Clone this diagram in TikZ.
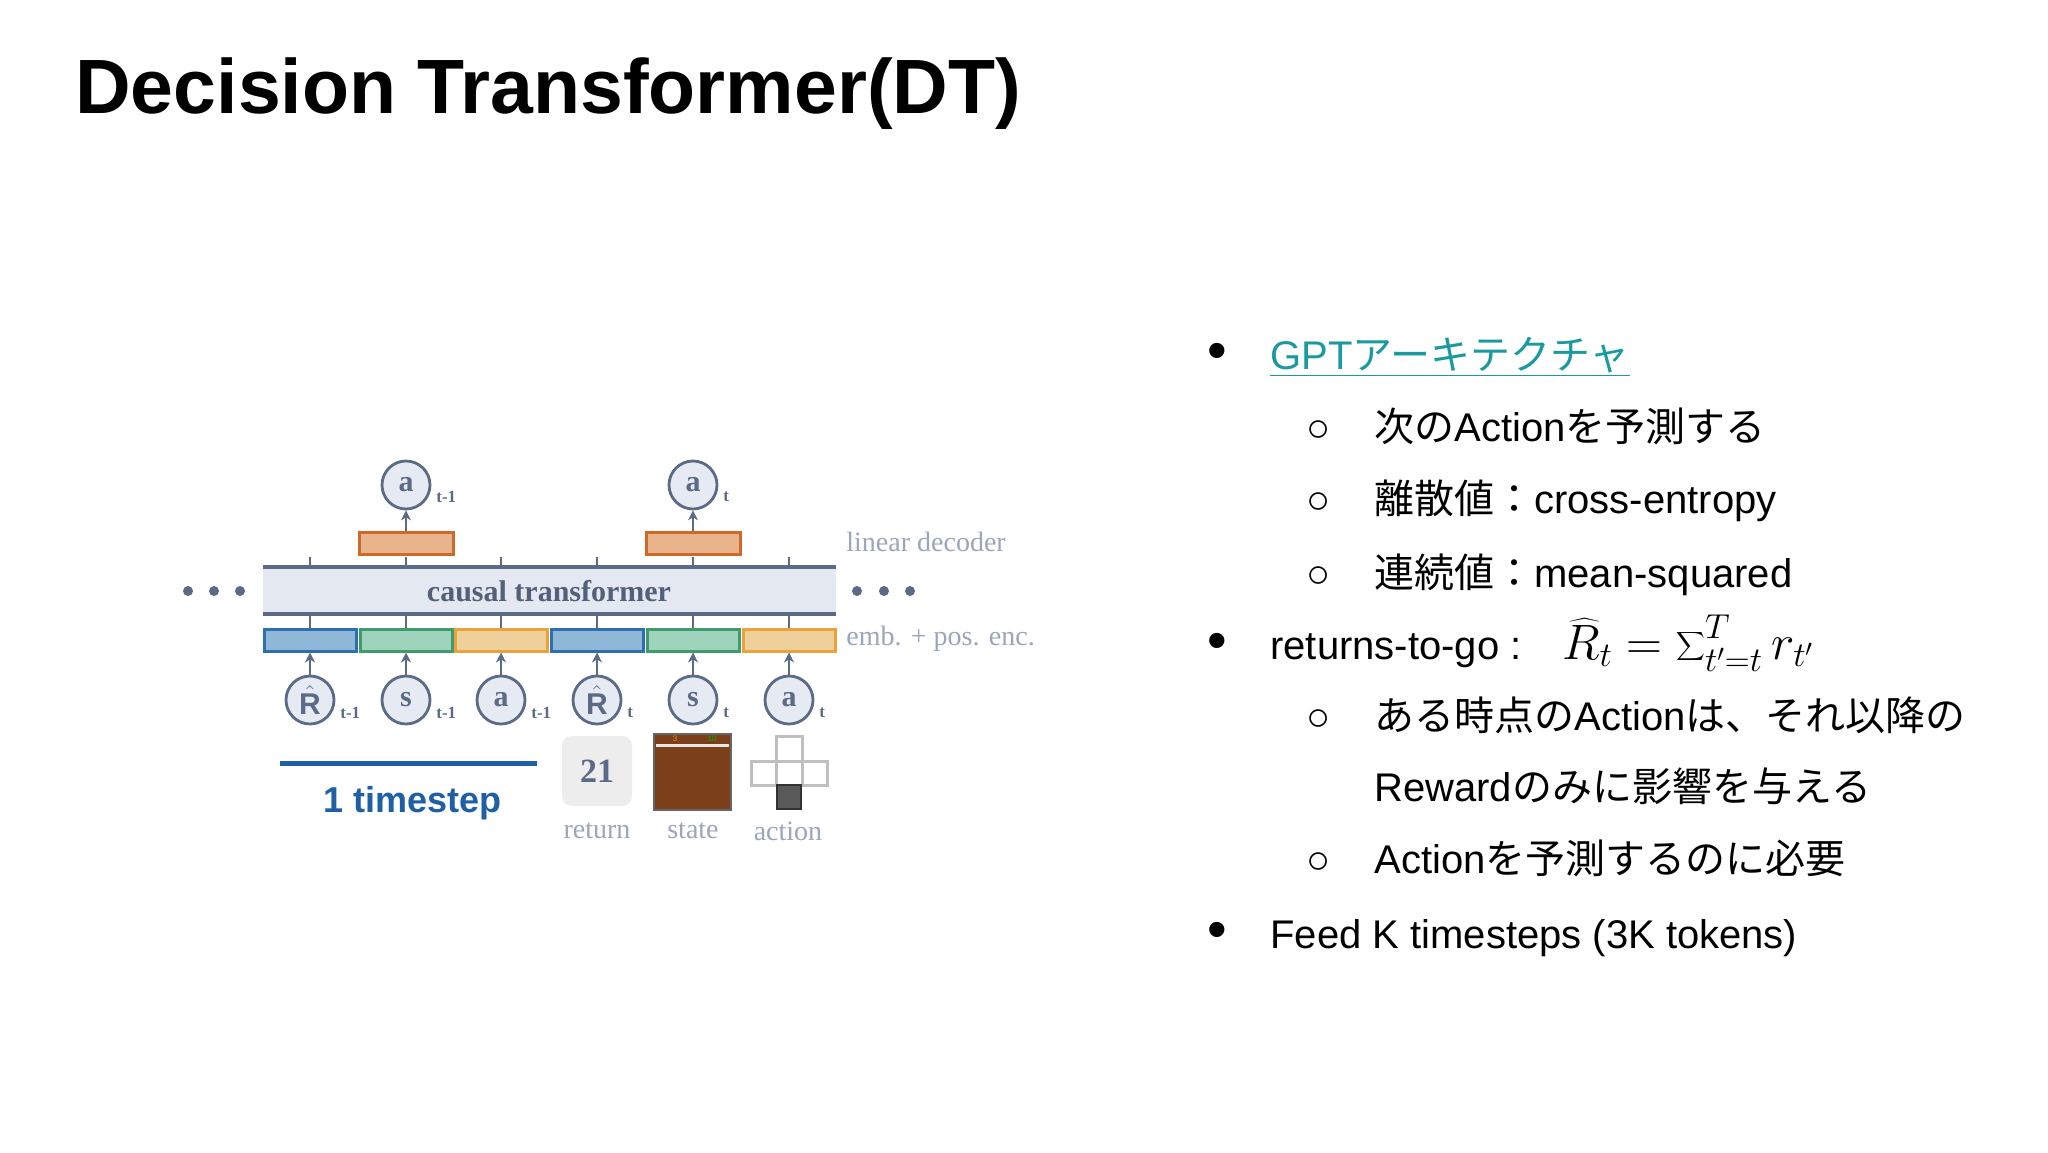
\documentclass[tikz,border=0pt]{standalone}
\usepackage{fontspec}
\setmainfont{Liberation Sans}
\newfontfamily\cjk{Noto Sans CJK JP}
\newfontfamily\dser{Liberation Serif}
\usetikzlibrary{arrows.meta}
\definecolor{ink}{HTML}{5B6B87}
\definecolor{lab}{HTML}{9AA6BB}
\definecolor{cfill}{HTML}{E6EBF3}
\definecolor{tfill}{HTML}{E3E8F1}
\definecolor{bfill}{HTML}{8FB8D8}\definecolor{bdraw}{HTML}{2F6FAE}
\definecolor{gfill}{HTML}{9FD3BB}\definecolor{gdraw}{HTML}{3F9B6E}
\definecolor{ofill}{HTML}{F0D09A}\definecolor{odraw}{HTML}{E8A33A}
\definecolor{dfill}{HTML}{E9B48C}\definecolor{ddraw}{HTML}{CC6A2A}
\definecolor{tsblue}{HTML}{1F5FA6}
\definecolor{link}{HTML}{1A9AA0}
\definecolor{brown}{HTML}{7B3F1A}
\tikzset{
 tok/.style={circle,draw=ink,fill=cfill,line width=1.4pt,minimum size=24pt,inner sep=0pt,font=\dser\fontsize{15}{15}\selectfont\bfseries,text=ink},
 sub/.style={font=\dser\fontsize{8.5}{9}\selectfont\bfseries,text=ink,anchor=west,inner sep=0pt},
 emb/.style={line width=1.5pt,minimum width=46pt,minimum height=11pt,inner sep=0pt},
 arr/.style={-{Stealth[length=5pt,width=5pt]},ink,line width=1pt},
 lbl/.style={font=\dser\fontsize{14}{15}\selectfont,text=lab,anchor=west,inner sep=0pt},
 body/.style={font=\fontsize{20}{24}\selectfont,anchor=base west,inner sep=0pt},
 bul/.style={font=\fontsize{20}{24}\selectfont,anchor=base,inner sep=0pt},
 bbul/.style={font=\fontsize{28}{28}\selectfont,anchor=base,inner sep=0pt}
}
\begin{document}
\begin{tikzpicture}[x=0.5pt,y=-0.5pt]
\useasboundingbox (0,0) rectangle (2048,1152);
\fill[white] (0,0) rectangle (2048,1152);
\node[anchor=base west,inner sep=0pt,font=\fontsize{38.5}{42}\selectfont\bfseries] (title) at (75,113) {Decision Transformer(DT)};
% transformer
\fill[tfill] (263,567) rectangle (836,614);
\draw[ink,line width=2pt] (263,567) -- (836,567);
\draw[ink,line width=2pt] (263,614) -- (836,614);
\node[font=\dser\fontsize{15}{16}\selectfont\bfseries,text=ink!90!black] (ct) at (549,591) {causal transformer};
\foreach \x in {310,406,501,597,693,789}{
 \draw[ink,line width=1pt] (\x,557) -- (\x,567);
 \draw[ink,line width=1pt] (\x,614) -- (\x,629);}
\foreach \i/\x in {1/188,2/214,3/240}{\fill[ink] (\x,591) circle (2.5pt);}
\foreach \i/\x in {1/857,2/884,3/910}{\fill[ink] (\x,591) circle (2.5pt);}
% emb boxes
\node[emb,fill=bfill,draw=bdraw] (e1) at (310,640) {};
\node[emb,fill=gfill,draw=gdraw] (e2) at (406,640) {};
\node[emb,fill=ofill,draw=odraw] (e3) at (501,640) {};
\node[emb,fill=bfill,draw=bdraw] (e4) at (597,640) {};
\node[emb,fill=gfill,draw=gdraw] (e5) at (693,640) {};
\node[emb,fill=ofill,draw=odraw] (e6) at (789,640) {};
% decoders
\node[emb,minimum width=47pt,fill=dfill,draw=ddraw] (d1) at (406,543) {};
\node[emb,minimum width=47pt,fill=dfill,draw=ddraw] (d2) at (693,543) {};
% top tokens
\node[tok] (o1) at (406,485) {a};
\node[sub] at (436,497) {t-1};
\node[tok] (o2) at (693,485) {a};
\node[sub] at (723,497) {t};
\draw[arr] (d1) -- (o1);
\draw[arr] (d2) -- (o2);
% bottom tokens
\node[tok] (b1) at (310,700) {$\hat{\textrm{R}}$};
\node[tok] (b2) at (406,700) {s};
\node[tok] (b3) at (501,700) {a};
\node[tok] (b4) at (597,700) {$\hat{\textrm{R}}$};
\node[tok] (b5) at (693,700) {s};
\node[tok] (b6) at (789,700) {a};
\node[sub] at (340,713) {t-1};
\node[sub] at (436,713) {t-1};
\node[sub] at (531,713) {t-1};
\node[sub] at (627,713) {t};
\node[sub] at (723,713) {t};
\node[sub] at (819,713) {t};
\foreach \i in {1,...,6}{\draw[arr] (b\i) -- (e\i);}
\node[lbl] (ld) at (846,542) {linear decoder};
\node[lbl] (pe) at (846,639) {emb. + pos. enc.};
% timestep
\draw[tsblue,line width=2.5pt] (280,763) -- (537,763);
\node[font=\fontsize{18}{20}\selectfont\bfseries,text=tsblue] (ts) at (413,803) {1 timestep};
% return
\node[fill=black!7,rounded corners=5pt,minimum width=35pt,minimum height=35pt,inner sep=0pt,font=\dser\fontsize{17}{17}\selectfont\bfseries,text=ink] (ret) at (597,771) {21};
% state
\fill[brown] (654,734) rectangle (731,810);
\draw[black!60,line width=1pt] (654,734) rectangle (731,810);
\fill[black!10] (656,744) rectangle (729,747);
\node[font=\fontsize{4}{4}\selectfont,text=orange] at (675,739) {3};
\node[font=\fontsize{4}{4}\selectfont,text=green!70!black] at (712,739) {10};
% action
\draw[black!25,line width=1.5pt] (776,736) rectangle (802,761);
\draw[black!25,line width=1.5pt] (751,761) rectangle (827,785);
\draw[black!25,line width=1.5pt] (776,761) -- (776,785) (802,761) -- (802,785);
\fill[black!65] (777,785) rectangle (801,809);
\draw[black!80,line width=1pt] (777,785) rectangle (801,809);
\node[lbl,anchor=center] (rl) at (597,831) {return};
\node[lbl,anchor=center] (sl) at (693,831) {state};
\node[lbl,anchor=center] (al) at (788,831) {action};
% right text
\begin{scope}[yshift=-6pt]
\node[bbul] (p1) at (1217,357) {\textbullet};
\node[body,text=link] (t1) at (1270,357) {\underline{GPT{\cjk アーキテクチャ}}};
\node[bul] (s1) at (1319,429) {○};
\node[body] (u1) at (1374,429) {{\cjk 次の}Action{\cjk を予測する}};
\node[bul] (s2) at (1319,501) {○};
\node[body] (u2) at (1374,501) {{\cjk 離散値：}cross-entropy};
\node[bul] (s3) at (1319,575) {○};
\node[body] (u3) at (1374,575) {{\cjk 連続値：}mean-squared};
\node[bbul] (p2) at (1217,647) {\textbullet};
\node[body] (t2) at (1270,647) {returns-to-go :};
\node[anchor=base west,inner sep=0pt,font=\fontsize{24}{26}\selectfont] (fm) at (1562,647) {$\widehat{R}_t = \displaystyle\sum\nolimits_{t'=t}^{T} r_{t'}$};
\node[bul] (s4) at (1319,718) {○};
\node[body] (u4) at (1374,718) {{\cjk ある時点の}Action{\cjk は、それ以降の}};
\node[body] (u5) at (1374,789) {Reward{\cjk のみに影響を与える}};
\node[bul] (s5) at (1319,861) {○};
\node[body] (u6) at (1374,861) {Action{\cjk を予測するのに必要}};
\node[bbul] (p3) at (1217,936) {\textbullet};
\node[body] (t3) at (1270,936) {Feed K timesteps (3K tokens)};
\end{scope}
\end{tikzpicture}
\end{document}
